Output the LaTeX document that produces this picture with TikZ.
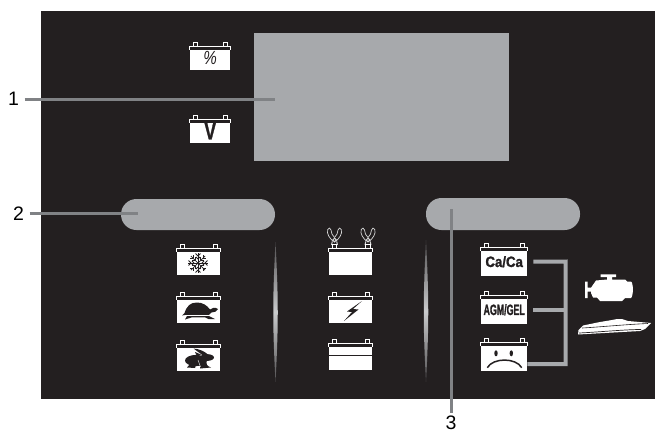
\documentclass[tikz,border=0pt]{standalone}
\usepackage{fontspec}
\usepackage{graphicx}
\setmainfont{Liberation Sans}
\newfontfamily\heavyfont[BoldFeatures={FakeBold=1.5}]{Liberation Sans}
\usetikzlibrary{calc,shadings}
\definecolor{PanelDark}{HTML}{231F20}
\definecolor{PanelGrey}{HTML}{A7A9AC}
\definecolor{LeadGrey}{HTML}{808285}

\begin{document}
\begin{tikzpicture}[
        x=1pt,y=-1pt,
        smallbatt/.style={fill=white,anchor=north west,inner sep=0pt,minimum width=40pt,minimum height=24pt,text=PanelDark},
        batt/.style={fill=white,anchor=north west,inner sep=0pt,minimum width=43pt,minimum height=27pt,text=PanelDark},
        bigbatt/.style={fill=white,anchor=north west,inner sep=0pt,minimum width=46pt,minimum height=29pt,text=PanelDark},
        lab/.style={font=\fontsize{19.5}{20}\selectfont,text=black,inner sep=5.5pt},
        lead/.style={draw=LeadGrey,line width=3pt},
        pill/.style={fill=PanelGrey,rounded corners=15.5pt},
        brk/.style={draw=PanelGrey,line width=4pt,miter limit=10},
        ink/.style={fill=PanelDark,draw=none},
        clamp/.style={draw=white!85!black,line width=0.7pt},
        spindle/.style={top color=PanelGrey!35!PanelDark,bottom color=PanelGrey!35!PanelDark,middle color=PanelGrey!60!white}
      ]
        \useasboundingbox (0,0) rectangle (655,432);
        \fill[PanelDark] (41,11) rectangle (655,399);
        \node[fill=PanelGrey,anchor=north west,inner sep=0pt,minimum width=255pt,minimum height=128pt] (display) at (254,33) {};
        \fill[pill] (121,199) rectangle (275,230);
        \fill[pill] (426,198) rectangle (580,230);
        % batteries
        \node[smallbatt] (pct) at (190,46) {\raisebox{-3pt}{\scalebox{0.8}[1]{\fontsize{19}{19}\selectfont\itshape\%}}};
        \node[smallbatt] (volt) at (190,119) {\raisebox{-3pt}{\scalebox{0.72}[1]{\fontsize{24}{24}\heavyfont\bfseries V}}};
        \node[batt] (cold) at (177,248) {};
        \node[batt] (slow) at (177,296) {};
        \node[batt] (fast) at (177,344) {};
        \node[batt] (clip) at (329,248) {};
        \node[batt] (flash) at (329,296) {};
        \node[batt] (full) at (329,343) {};
        \node[bigbatt] (caca) at (481,247) {\raisebox{-2.5pt}{\scalebox{0.88}[1]{\fontsize{15}{15}\heavyfont\bfseries Ca/Ca}}};
        \node[bigbatt] (agm) at (481,295) {\raisebox{-2.5pt}{\scalebox{0.59}[1]{\fontsize{15}{15}\heavyfont\bfseries AGM/GEL}}};
        \node[bigbatt] (sad) at (481,342) {};
        \foreach \n in {pct,volt,cold,slow,fast,clip,flash,full,caca,agm,sad} {
          \fill[PanelDark] ($(\n.north west)+(0,1.2)$) rectangle ($(\n.north east)+(0,3.6)$);
          \draw[white,line width=0.7pt] ($(\n.north west)+(-0.4,0.2)$) -- ($(\n.north east)+(0.4,0.2)$);
          \draw[white,line width=0.7pt] ($(\n.north west)+(-0.4,0.2)$) -- ++(0,3.4);
          \draw[white,line width=0.7pt] ($(\n.north east)+(0.4,0.2)$) -- ++(0,3.4);
        }
        \foreach \n in {pct,volt,cold,slow,fast,flash,full,caca,agm,sad} {
          \draw[white,line width=0.7pt] ($(\n.north west)+(3.5,0)$) rectangle ($(\n.north west)+(7.5,-4)$);
          \draw[white,line width=0.7pt] ($(\n.north east)+(-7.5,0)$) rectangle ($(\n.north east)+(-3.5,-4)$);
        }
        % snowflake
        \foreach \a in {0,45,...,315} {
          \draw[PanelDark,line width=0.7pt] (198,263) -- ++(\a:10);
          \draw[PanelDark,line width=0.9pt] ($(198,263)+(\a:7)$) -- ++(\a+45:3.5);
          \draw[PanelDark,line width=0.9pt] ($(198,263)+(\a:7)$) -- ++(\a-45:3.5);
          \draw[PanelDark,line width=0.9pt] ($(198,263)+(\a:4)$) -- ++(\a+45:3);
          \draw[PanelDark,line width=0.9pt] ($(198,263)+(\a:4)$) -- ++(\a-45:3);
        }
        % turtle
        \fill[ink] (184.5,313) .. controls (187,306) and (190,302.5) .. (197,302.5) .. controls (203,302.5) and (207,305.5) .. (210,309.5) .. controls (212,307.5) and (215,307) .. (218,309) .. controls (217,312) and (214,312) .. (211.5,312.5) -- (209,314.8) -- (186,314.8) -- (182,315.5) -- cycle;
        \fill[ink] (187,316) -- (209,316) -- (215,319) -- (208.5,319) -- (205,317.3) -- (192,317.3) -- (185,319.5) -- cycle;
        % rabbit
        \fill[ink] (196,360.5) ellipse (11 and 5.6);
        \fill[ink] (207,357.5) ellipse (7 and 3.4);
        \fill[ink] (203,355.5) -- (193.5,348.5) .. controls (199,349) and (204,351) .. (208,354.5) -- cycle;
        \fill[ink] (201,354.5) -- (195,352) -- (197,356) -- cycle;
        \fill[ink] (200,362) -- (206,361) .. controls (206,364) and (207,366) .. (211,367.5) -- (200,368.5) -- cycle;
        \fill[ink] (190,364) -- (196,365) -- (195,368) -- (187,367.5) -- cycle;
        \draw[white,line width=0.4pt] (198,360) -- (200.5,367);
        % clamps
        \foreach \cx in {334.5,368} {
          \draw[clamp] (\cx-1.5,241) .. controls (\cx-5,238) and (\cx-8,234) .. (\cx-6.8,229.5) .. controls (\cx-6,227.5) and (\cx-3.8,227.5) .. (\cx-3.5,230) .. controls (\cx-3.5,233) and (\cx-2,235.5) .. (\cx,237.5);
          \draw[clamp] (\cx+1.5,241) .. controls (\cx+5,238) and (\cx+8,234) .. (\cx+6.8,229.5) .. controls (\cx+6,227.5) and (\cx+3.8,227.5) .. (\cx+3.5,230) .. controls (\cx+3.5,233) and (\cx+2,235.5) .. (\cx,237.5);
          \draw[clamp,line width=1pt] (\cx,240) circle (1.8);
          \draw[clamp,line width=1pt] (\cx-2.2,241.5) -- (\cx-3,245) (\cx+2.2,241.5) -- (\cx+3,245);
          \draw[white,line width=1pt] (\cx-2.3,244.5) rectangle (\cx+2.3,248);
        }
        % bolt
        \fill[ink] (362,301) -- (347,311.5) -- (352,312) -- (344,321) -- (358.5,309.5) -- (353,309) -- cycle;
        % lines on the last battery
        \draw[PanelDark,line width=1pt] ($(full.north west)+(0,12.5)$) -- ($(full.north east)+(0,12.5)$);
        % sad face
        \fill[ink] (496,353.3) ellipse (1.7 and 3);
        \fill[ink] (511.3,353.3) ellipse (1.7 and 3);
        \draw[PanelDark,line width=1.5pt] (487.3,367.7) .. controls (493,357.5) and (516,357.5) .. (521.7,367.7);
        % spindles
        \shade[spindle] (275.5,242) .. controls (272.5,300) and (272.5,325) .. (275.5,382) .. controls (278.5,325) and (278.5,300) .. (275.5,242);
        \shade[spindle] (426,240) .. controls (423,300) and (423,325) .. (426,382) .. controls (429,325) and (429,300) .. (426,240);
        % engine
        \fill[white] (600.7,274.3) -- (616,274.3) -- (616,277) -- (612,277) -- (612,279.5) -- (625,279.5) -- (627,281.5) -- (631,281.5) .. controls (633.5,283) and (633.5,296) .. (631,298) -- (625,298) -- (622,301) -- (600,301) -- (597,297.5) -- (593,297.5) -- (591,293) -- (591,291.7) -- (587.7,291.7) -- (587.7,298) -- (585,298) -- (585,281.7) -- (587.7,281.7) -- (587.7,287.7) -- (591,287.7) -- (596,280.5) -- (607,279.5) -- (607,277) -- (600.7,277) -- cycle;
        % boat
        \fill[white] (578,334.5) -- (578.5,330) -- (583,325.5) -- (600,322) -- (612,320) -- (617,319) -- (622,319) -- (628,321) -- (651,323) -- (645,329) -- (640,331) -- cycle;
        \draw[PanelDark,line width=0.6pt] (582,328) .. controls (600,327) and (625,324.5) .. (648,323.5);
        \draw[PanelDark,line width=0.7pt] (579,333) .. controls (600,332) and (625,329.5) .. (641,329.5);
        % bracket
        \coordinate (brktop) at (565.5,261.5);
        \coordinate (brkbot) at (565.5,364);
        \draw[brk,shorten <=6pt] (caca.east) -- (brktop) -- (brkbot) -- (brkbot -| sad.east);
        \draw[brk,shorten <=6pt] (agm.east) -- (agm.east -| brktop);
        % leaders
        \node[lab] (lab1) at (13.5,99) {1};
        \node[lab] (lab2) at (18.5,213.5) {2};
        \node[lab,inner sep=1pt] (lab3) at (451,423) {3};
        \coordinate (end1) at (275,99);
        \coordinate (end2) at (138,213.5);
        \coordinate (end3) at (451,209);
        \draw[lead] (lab1) -- (end1);
        \draw[lead] (lab2) -- (end2);
        \draw[lead,shorten <=2pt] (lab3) -- (end3);
      \end{tikzpicture}
\end{document}
